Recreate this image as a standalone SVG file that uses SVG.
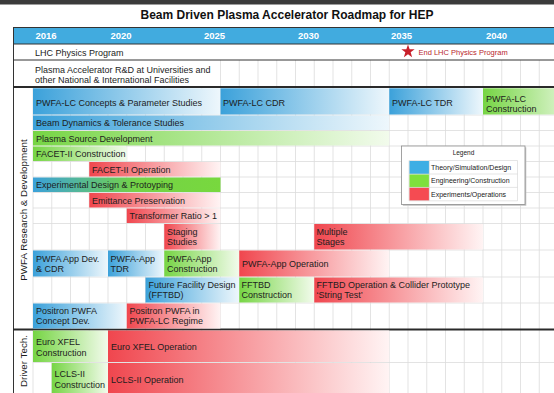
<svg xmlns="http://www.w3.org/2000/svg" width="554" height="393" viewBox="0 0 554 393">
<style>
.t{font-family:"Liberation Sans",Arial,Helvetica,sans-serif;font-size:9px;fill:#1d1d1d}
.yr{font-family:"Liberation Sans",Arial,Helvetica,sans-serif;font-size:9.5px;font-weight:bold;fill:#ffffff}
.lg{font-family:"Liberation Sans",Arial,Helvetica,sans-serif;font-size:7px;fill:#222}
.grid{stroke:#dcdcdc;stroke-width:0.8;fill:none}
.rule{stroke:#333;stroke-width:1;fill:none}
.thick{stroke:#2a2a2a;stroke-width:2;fill:none}
.b{fill:url(#gB)}
.g{fill:url(#gG)}
.r{fill:url(#gR)}
</style>
<defs>
<linearGradient id="gB" x1="0" y1="0" x2="1" y2="0"><stop offset="0" stop-color="#3ba1da"/><stop offset="1" stop-color="#eef7fc"/></linearGradient>
<linearGradient id="gG" x1="0" y1="0" x2="1" y2="0"><stop offset="0" stop-color="#76d544"/><stop offset="1" stop-color="#f2fbec"/></linearGradient>
<linearGradient id="gR" x1="0" y1="0" x2="1" y2="0"><stop offset="0" stop-color="#f0464e"/><stop offset="1" stop-color="#fff4f4"/></linearGradient>
<linearGradient id="gBG" x1="0" y1="0" x2="1" y2="0"><stop offset="0" stop-color="#3ba1da"/><stop offset="0.55" stop-color="#74d346"/><stop offset="1" stop-color="#78d83e"/></linearGradient>
</defs>
<rect x="0" y="0" width="554" height="393" fill="#ffffff"/>
<rect x="0" y="0" width="554" height="4.5" fill="#3b3b3b"/>
<text x="287" y="19" text-anchor="middle" style="font-family:'Liberation Sans',Arial,Helvetica,sans-serif;font-size:12px;font-weight:bold;fill:#111">Beam Driven Plasma Accelerator Roadmap for HEP</text>

<g id="header">
<rect x="13.5" y="27.5" width="545" height="16.5" fill="#41abdf" stroke="#333" stroke-width="1"/>
<text class="yr" x="35.5" y="39">2016</text>
<text class="yr" x="110.5" y="39">2020</text>
<text class="yr" x="204" y="39">2025</text>
<text class="yr" x="298" y="39">2030</text>
<text class="yr" x="391" y="39">2035</text>
<text class="yr" x="486" y="39">2040</text>
</g>

<g id="gridlines">
<path class="grid" d="M220.5 60V87M239.25 60V87M258 60V87M276.75 60V87M295.5 60V87M314.25 60V87M333 60V87M351.75 60V87M370.5 60V87M389.25 60V87M408 60V87M426.75 60V87M445.5 60V87M464.25 60V87M483 60V87M501.75 60V87M520.5 60V87M539.25 60V87"/>
<path class="grid" d="M33 87V393M51.75 87V393M70.5 87V393M89.25 87V393M108 87V393M126.75 87V393M145.5 87V393M164.25 87V393M183 87V393M201.75 87V393M220.5 87V393M239.25 87V393M258 87V393M276.75 87V393M295.5 87V393M314.25 87V393M333 87V393M351.75 87V393M370.5 87V393M389.25 87V393M408 87V393M426.75 87V393M445.5 87V393M464.25 87V393M483 87V393M501.75 87V393M520.5 87V393M539.25 87V393"/>
<path class="grid" d="M33 115H554M33 130.5H554M33 146H554M33 161.5H554M33 177H554M33 192.5H554M33 208H554M33 223.5H554M33 250H554M33 277H554M33 303H554M33 362.5H554"/>
</g>

<g id="frame">
<path class="rule" d="M13.5 27.5V393M13.5 60H554"/>
<path class="thick" d="M13 87H554M13 329.5H554"/>
</g>

<g id="lhc">
<text class="t" x="35" y="55.5">LHC Physics Program</text>
<polygon points="408,44.5 409.65,49.23 414.66,49.34 410.66,52.37 412.11,57.16 408,54.3 403.89,57.16 405.34,52.37 401.34,49.34 406.35,49.23" fill="#c8202a"/>
<text x="418.5" y="54.8" style="font-family:'Liberation Sans',Arial,Helvetica,sans-serif;font-size:7.5px;fill:#b8262c">End LHC Physics Program</text>
</g>

<g id="rnd">
<text class="t" x="35" y="72.5">Plasma Accelerator R&amp;D at Universities and</text>
<text class="t" x="35" y="83">other National &amp; International Facilities</text>
</g>

<g id="section-pwfa">
<text class="t" transform="translate(26.5 210) rotate(-90)" text-anchor="middle" style="font-size:9.8px">PWFA Research &amp; Development</text>
</g>
<g id="section-driver">
<text class="t" transform="translate(26.5 361) rotate(-90)" text-anchor="middle" style="font-size:9.8px">Driver Tech.</text>
</g>

<g id="lc-concepts"><rect class="b" x="33" y="88.3" width="187.5" height="26.2"/><text class="t" x="36" y="105.5">PWFA-LC Concepts &amp; Parameter Studies</text></g>
<g id="lc-cdr"><rect class="b" x="220.5" y="88.3" width="168.75" height="26.2"/><text class="t" x="223" y="105.5">PWFA-LC CDR</text></g>
<g id="lc-tdr"><rect class="b" x="389.25" y="88.3" width="93.75" height="26.2"/><text class="t" x="392" y="105.5">PWFA-LC TDR</text></g>
<g id="lc-construction"><rect class="g" x="483" y="88.3" width="100" height="26.2"/><text class="t" x="486" y="101.5">PWFA-LC</text><text class="t" x="486" y="111.5">Construction</text></g>

<g id="beam-dynamics"><rect class="b" x="33" y="115.5" width="356.25" height="14.5"/><text class="t" x="36" y="126">Beam Dynamics &amp; Tolerance Studies</text></g>
<g id="plasma-source"><rect class="g" x="33" y="131" width="356.25" height="14.5"/><text class="t" x="36" y="141.5">Plasma Source Development</text></g>
<g id="facet-construction"><rect class="g" x="33" y="146.5" width="93.75" height="14.5"/><text class="t" x="36" y="157">FACET-II Construction</text></g>
<g id="facet-operation"><rect class="r" x="89.25" y="162" width="131.25" height="14.5"/><text class="t" x="92" y="172.5">FACET-II Operation</text></g>
<g id="exp-design"><rect x="33" y="177.5" width="187.5" height="14.5" fill="url(#gBG)"/><text class="t" x="36" y="188">Experimental Design &amp; Protoyping</text></g>
<g id="emittance"><rect class="r" x="89.25" y="193" width="131.25" height="14.5"/><text class="t" x="92" y="203.5">Emittance Preservation</text></g>
<g id="transformer"><rect class="r" x="126.75" y="208.5" width="93.75" height="14.5"/><text class="t" x="129.5" y="219">Transformer Ratio &gt; 1</text></g>
<g id="staging"><rect class="r" x="164.25" y="224" width="56.25" height="25.5"/><text class="t" x="167" y="235">Staging</text><text class="t" x="167" y="245">Studies</text></g>
<g id="multiple-stages"><rect class="r" x="314.25" y="224" width="168.75" height="25.5"/><text class="t" x="316.5" y="235">Multiple</text><text class="t" x="316.5" y="245">Stages</text></g>

<g id="app-dev"><rect class="b" x="33" y="250.5" width="75" height="26"/><text class="t" x="36" y="261.5">PWFA App Dev.</text><text class="t" x="36" y="272">&amp; CDR</text></g>
<g id="app-tdr"><rect class="b" x="108" y="250.5" width="56.25" height="26"/><text class="t" x="110.5" y="261.5">PWFA-App</text><text class="t" x="110.5" y="272">TDR</text></g>
<g id="app-construction"><rect class="g" x="164.25" y="250.5" width="75" height="26"/><text class="t" x="167" y="261.5">PWFA-App</text><text class="t" x="167" y="272">Construction</text></g>
<g id="app-operation"><rect class="r" x="239.25" y="250.5" width="150" height="26"/><text class="t" x="242" y="266.8">PWFA-App Operation</text></g>

<g id="fftbd-design"><rect class="b" x="145.5" y="277.5" width="93.75" height="25"/><text class="t" x="148.5" y="287.5">Future Facility Design</text><text class="t" x="148.5" y="298">(FFTBD)</text></g>
<g id="fftbd-construction"><rect class="g" x="239.25" y="277.5" width="75" height="25"/><text class="t" x="241.5" y="287.5">FFTBD</text><text class="t" x="241.5" y="298">Construction</text></g>
<g id="fftbd-operation"><rect class="r" x="314.25" y="277.5" width="168.75" height="25"/><text class="t" x="316.5" y="287.5">FFTBD Operation &amp; Collider Prototype</text><text class="t" x="316.5" y="298">‘String Test’</text></g>

<g id="positron-concept"><rect class="b" x="33" y="303.5" width="93.75" height="25"/><text class="t" x="36" y="313.5">Positron PWFA</text><text class="t" x="36" y="323.5">Concept Dev.</text></g>
<g id="positron-lc"><rect class="r" x="126.75" y="303.5" width="93.75" height="25"/><text class="t" x="129.5" y="313.5">Positron PWFA in</text><text class="t" x="129.5" y="323.5">PWFA-LC Regime</text></g>

<g id="euroxfel-construction"><rect class="g" x="33" y="330.5" width="75" height="31.5"/><text class="t" x="36" y="345">Euro XFEL</text><text class="t" x="36" y="355.5">Construction</text></g>
<g id="euroxfel-operation"><rect class="r" x="108" y="330.5" width="281.25" height="31.5"/><text class="t" x="111" y="350">Euro XFEL Operation</text></g>
<g id="lcls-construction"><rect class="g" x="51.75" y="363" width="56.25" height="30"/><text class="t" x="54.5" y="377">LCLS-II</text><text class="t" x="54.5" y="388">Construction</text></g>
<g id="lcls-operation"><rect class="r" x="108" y="363" width="281.25" height="30"/><text class="t" x="111" y="382.5">LCLS-II Operation</text></g>

<g id="legend">
<rect x="402.8" y="147.3" width="123.5" height="58.5" fill="#c4c4c4"/>
<rect x="401.5" y="146" width="123.5" height="58.5" fill="#ffffff" stroke="#8c8c8c" stroke-width="0.8"/>
<text x="463.5" y="155" text-anchor="middle" style="font-family:'Liberation Sans',Arial,Helvetica,sans-serif;font-size:6.5px;fill:#222">Legend</text>
<rect x="409.3" y="161" width="19.8" height="13" fill="#3eaee4"/>
<rect x="409.3" y="174.3" width="19.8" height="13" fill="#7fe03c"/>
<rect x="409.3" y="187.6" width="19.8" height="13" fill="#f54b52"/>
<path d="M409 160.5H517.5V200.8H409ZM409 174H517.5M409 187.4H517.5M429.3 160.5V200.8" fill="none" stroke="#d4d4d4" stroke-width="0.6"/>
<text class="lg" x="431" y="170">Theory/Simulation/Design</text>
<text class="lg" x="431" y="183.3">Engineering/Construction</text>
<text class="lg" x="431" y="196.6">Experiments/Operations</text>
</g>
</svg>
